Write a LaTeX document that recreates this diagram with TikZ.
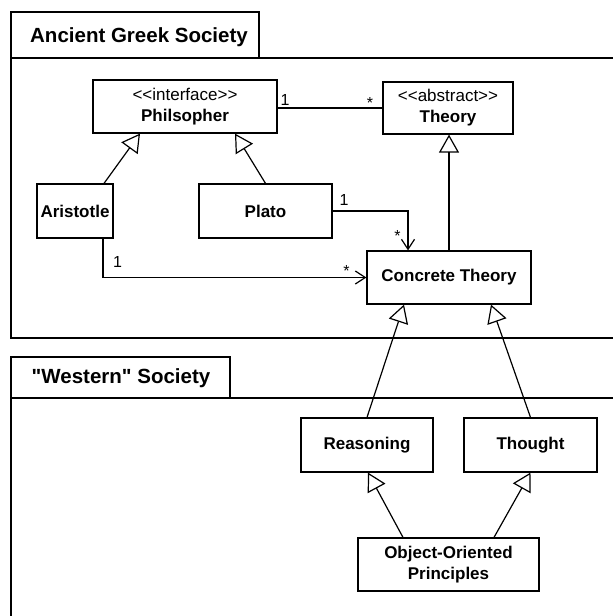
\documentclass[tikz,border=0pt]{standalone}
\usepackage{fontspec}
\setmainfont{Liberation Sans}
\usetikzlibrary{arrows.meta}
\begin{document}
\begin{tikzpicture}[x=1pt,y=-1pt, line width=1.2pt,
 cls/.style={draw, fill=white, inner sep=0pt, align=center, font=\fontsize{17}{21}\selectfont},
 gen/.style={-{Triangle[open,length=18pt,width=20pt]}},
 assoc/.style={-{Straight Barb[length=10pt,width=13pt]}},
 mult/.style={anchor=base, inner sep=0pt, font=\fontsize{16}{20}\selectfont},
 ptitle/.style={anchor=base, inner sep=0pt, font=\bfseries\fontsize{20.5}{24}\selectfont}]
\useasboundingbox (0,0) rectangle (613,616);
\begin{scope}
\clip (0,0) rectangle (613,616);
\draw (11,12) rectangle (259,58);
\draw (620,58) -- (11,58) -- (11,338) -- (620,338);
\draw (11,357) rectangle (230,398);
\draw (620,398) -- (11,398) -- (11,620);
\end{scope}
\node[ptitle] (t1) at (139,42) {Ancient Greek Society};
\node[ptitle] (t2) at (121,383) {\textquotedbl Western\textquotedbl{} Society};

\node[cls, minimum width=184pt, minimum height=53pt] (phil) at (185,106.5) {{<}{<}interface{>}{>}\\\textbf{Philsopher}};
\node[cls, minimum width=130pt, minimum height=52pt] (theory) at (448,108) {{<}{<}abstract{>}{>}\\\textbf{Theory}};
\node[cls, minimum width=76pt, minimum height=54pt] (arist) at (75,211) {\textbf{Aristotle}};
\node[cls, minimum width=133pt, minimum height=54pt] (plato) at (265.5,211) {\textbf{Plato}};
\node[cls, minimum width=164pt, minimum height=53pt] (conc) at (449,277.5) {\textbf{Concrete Theory}};
\node[cls, minimum width=132pt, minimum height=54pt] (reas) at (367,445) {\textbf{Reasoning}};
\node[cls, minimum width=133pt, minimum height=54pt] (thought) at (530.5,445) {\textbf{Thought}};
\node[cls, minimum width=181pt, minimum height=53pt] (oop) at (448.5,564.5) {\textbf{Object-Oriented}\\\textbf{Principles}};

% association Philsopher - Theory
\draw (phil.east |- theory.west) -- (theory.west);
\node[mult] (m1) at (285,105) {1};
\node[mult] (m2) at (370,108) {*};
% generalizations
\draw[gen] ([xshift=29pt]arist.north) -- ([xshift=-45pt]phil.south);
\draw[gen] (plato.north) -- ([xshift=50pt]phil.south);
\draw[gen] (conc.north) -- (conc.north |- theory.south);
\draw[gen] (reas.north) -- ([xshift=-45pt]conc.south);
\draw[gen] (thought.north) -- ([xshift=42pt]conc.south);
\draw[gen] ([xshift=-45.5pt]oop.north) -- ([xshift=1pt]reas.south);
\draw[gen] ([xshift=45.5pt]oop.north) -- (thought.south);
% associations to Concrete Theory
\draw[assoc] (plato.east) -| ([xshift=-41pt]conc.north);
\node[mult] (m3) at (344,205) {1};
\node[mult] (m4) at (397.5,241.5) {*};
\draw[assoc] ([xshift=28pt]arist.south) |- (conc.west);
\node[mult] (m5) at (117.5,267) {1};
\node[mult] (m6) at (346.5,276.5) {*};
\end{tikzpicture}
\end{document}
